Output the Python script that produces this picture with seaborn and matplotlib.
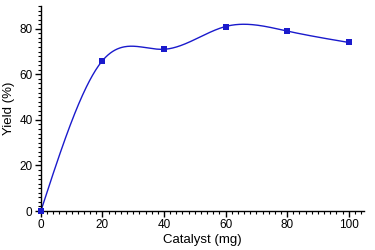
#!/usr/bin/env python3

import numpy as np
import pandas as pd
import matplotlib
matplotlib.use("Agg")
import matplotlib.pylab as plt
from matplotlib.ticker import MultipleLocator
import seaborn as sns

catalyst = [0, 20, 40, 60, 80, 100]
yield_pct = [0, 66, 71, 81, 79, 74]
x_ticks = [0, 20, 40, 60, 80, 100]
y_ticks = [0, 20, 40, 60, 80]

line_color = "#1a1acc"


def natural_spline(x, y, n=400):
    """
    Natural cubic spline through the points, for the smooth line.
    """
    x = np.asarray(x, float)
    y = np.asarray(y, float)
    k = len(x)
    h = np.diff(x)
    A = np.zeros((k, k))
    b = np.zeros(k)
    A[0, 0] = 1
    A[-1, -1] = 1
    for i in range(1, k - 1):
        A[i, i - 1] = h[i - 1]
        A[i, i] = 2 * (h[i - 1] + h[i])
        A[i, i + 1] = h[i]
        b[i] = 3 * ((y[i + 1] - y[i]) / h[i] - (y[i] - y[i - 1]) / h[i - 1])
    c = np.linalg.solve(A, b)
    xs = np.linspace(x[0], x[-1], n)
    ys = np.zeros_like(xs)
    for j, xv in enumerate(xs):
        i = min(np.searchsorted(x, xv, side="right") - 1, k - 2)
        dx = xv - x[i]
        bi = (y[i + 1] - y[i]) / h[i] - h[i] * (2 * c[i] + c[i + 1]) / 3
        di = (c[i + 1] - c[i]) / (3 * h[i])
        ys[j] = y[i] + bi * dx + c[i] * dx**2 + di * dx**3
    return xs, ys


sns.set_style("ticks")
plt.rcParams["font.family"] = ["Liberation Sans", "DejaVu Sans"]

df = pd.DataFrame({"catalyst": catalyst, "yield": yield_pct})
xs, ys = natural_spline(catalyst, yield_pct)
curve = pd.DataFrame({"catalyst": xs, "yield": ys})

fig = plt.figure(figsize=(3.75, 2.5), dpi=100)
ax = fig.add_axes([0.109, 0.156, 0.862, 0.82])

sns.lineplot(data=curve, x="catalyst", y="yield", ax=ax, color=line_color,
             linewidth=1.0, sort=False)
sns.scatterplot(data=df, x="catalyst", y="yield", ax=ax, color=line_color,
                marker="s", s=22, edgecolor=line_color, linewidth=0, zorder=3,
                clip_on=False)

ax.set_xlim(0, 105)
ax.set_ylim(0, 90)
ax.set_xticks(x_ticks)
ax.set_yticks(y_ticks)
ax.xaxis.set_minor_locator(MultipleLocator(2))
ax.yaxis.set_minor_locator(MultipleLocator(2))
ax.tick_params(which="major", direction="out", length=4, width=1,
               labelsize=8.5, pad=2, colors="black")
ax.tick_params(which="minor", direction="out", length=2, width=0.8,
               colors="black")
ax.set_xlabel("Catalyst (mg)", fontsize=9.5, labelpad=2, color="black")
ax.set_ylabel("Yield (%)", fontsize=9.5, labelpad=3, color="black")
for side in ["top", "right"]:
    ax.spines[side].set_visible(False)
for side in ["left", "bottom"]:
    ax.spines[side].set_linewidth(1.0)
    ax.spines[side].set_color("black")

plt.savefig("out.png", dpi=100)
